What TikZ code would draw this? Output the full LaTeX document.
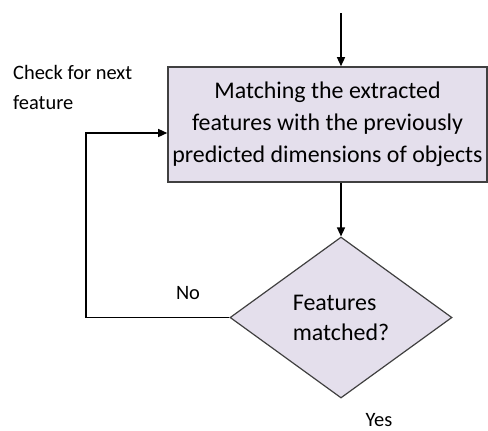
\documentclass[tikz,border=0pt]{standalone}
\usepackage{fontspec}
\setmainfont{Carlito}
\usetikzlibrary{shapes.geometric, arrows.meta, positioning, calc}
\definecolor{boxfill}{RGB}{228, 223, 236}
\definecolor{boxedge}{RGB}{64, 64, 64}

\begin{document}
\begin{tikzpicture}[x=1bp, y=-1bp,
  procbox/.style={draw=boxedge, line width=1.6bp, fill=boxfill, minimum width=319bp, minimum height=115bp, align=center, font=\fontsize{24}{32}\selectfont, inner sep=0pt},
  decision/.style={diamond, draw=boxedge, line width=1.2bp, fill=boxfill, minimum width=222bp, minimum height=161bp, inner sep=0pt, align=left, font=\fontsize{24}{30}\selectfont},
  flow/.style={-{Triangle[length=9bp, width=8bp]}, line width=1.4bp},
  lbl/.style={font=\fontsize{20.5}{30}\selectfont, inner sep=0pt}]
  \useasboundingbox (0,0) rectangle (488,430);

  % process box and decision
  \node[procbox] (match) at (327.5,124.5) {Matching the extracted\\features with the previously\\predicted dimensions of objects};
  \node[decision] (check) at (341,317.5) {Features\\matched?};

  % loose ends of the flow
  \coordinate (entry) at (341,13);
  \coordinate (back) at (86,133);

  % connectors
  \draw[flow] (entry) -- (entry |- match.north);
  \draw[flow] (match.south -| check.north) -- (check.north);
  \draw[flow] (check.west) -| (back) -- (back -| match.west);

  % labels
  \node[lbl, anchor=base west, align=left] (next) at (13,109) {Check for next\\feature};
  \node[lbl, anchor=base] (no) at (188,299) {No};
  \node[lbl, anchor=base] (yes) at (379,426) {Yes};
\end{tikzpicture}
\end{document}
